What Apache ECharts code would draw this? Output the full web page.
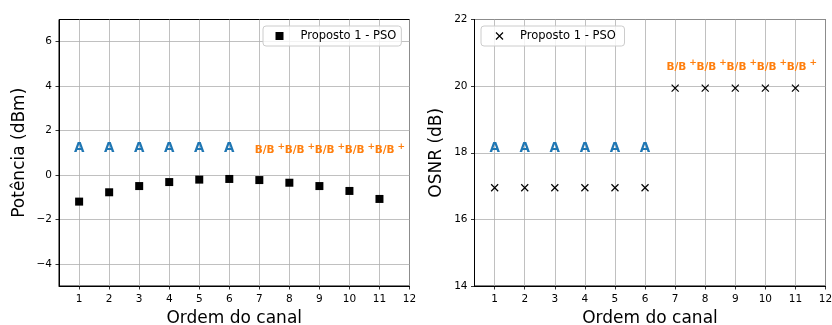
<!DOCTYPE html>
<html>
<head>
<meta charset="utf-8">
<script src="https://cdn.jsdelivr.net/npm/echarts@6/dist/echarts.min.js"></script>
<style>
  html, body { margin: 0; padding: 0; background: #fff; }
  #chart { width: 832px; height: 325px; }
</style>
</head>
<body>
<div id="chart"></div>
<script>
// Channel order and per-channel results of the PSO proposal
const channels = [1, 2, 3, 4, 5, 6, 7, 8, 9, 10, 11];
const potencia = [-1.20, -0.78, -0.50, -0.32, -0.21, -0.18, -0.23, -0.35, -0.50, -0.72, -1.08];
const osnr = [16.95, 16.95, 16.95, 16.95, 16.95, 16.95, 19.94, 19.94, 19.94, 19.94, 19.94];
// Modulation class assigned to each channel
const classes = ['A', 'A', 'A', 'A', 'A', 'A', 'B/B+', 'B/B+', 'B/B+', 'B/B+', 'B/B+'];
// Heights at which the class tags are written (power plot / OSNR plot)
const tagYPower = { 'A': 1, 'B/B+': 1 };
const tagYOsnr = { 'A': 18, 'B/B+': 20.5 };

// Tick labels
const xTicks = [1, 2, 3, 4, 5, 6, 7, 8, 9, 10, 11, 12];
const powerTicks = [-4, -2, 0, 2, 4, 6];
const osnrTicks = [14, 16, 18, 20, 22];

const seriesName = 'Proposto 1 - PSO';
const FONT = 'DejaVu Sans';
const BLUE = '#1f77b4';
const ORANGE = '#ff7f0e';
const GRID = '#b0b0b0';
const CROSS = 'path://M0,0L10,10M0,10L10,0';

const fmtNum = v => (v < 0 ? '\u2212' + Math.abs(v) : String(v));

function xAxisFor(gridIndex) {
  return {
    type: 'value', gridIndex, min: 0.33, max: 12,
    name: 'Ordem do canal', nameLocation: 'middle', nameGap: 24,
    nameTextStyle: { fontFamily: FONT, fontSize: 17, color: '#000' },
    axisLine: { show: true, onZero: false, lineStyle: { color: '#000', width: 1 } },
    axisTick: { show: true, length: 3.5, inside: false, customValues: xTicks, lineStyle: { color: '#000', width: 0.8 } },
    axisLabel: { customValues: xTicks, margin: 8, fontFamily: FONT, fontSize: 10.5, color: '#000', formatter: fmtNum },
    splitLine: { show: true, lineStyle: { color: GRID, width: 0.8 } }
  };
}

function yAxisFor(gridIndex, min, max, ticks, title, gap) {
  return {
    type: 'value', gridIndex, min, max,
    name: title, nameLocation: 'middle', nameGap: gap, nameRotate: 90,
    nameTextStyle: { fontFamily: FONT, fontSize: 17, color: '#000' },
    axisLine: { show: true, onZero: false, lineStyle: { color: '#000', width: 1 } },
    axisTick: { show: true, length: 3.5, inside: false, customValues: ticks, lineStyle: { color: '#000', width: 0.8 } },
    axisLabel: { customValues: ticks, margin: 7, fontFamily: FONT, fontSize: 10.5, color: '#000', formatter: fmtNum },
    splitLine: { show: true, lineStyle: { color: GRID, width: 0.8 } }
  };
}

// Class tags drawn as text labels anchored on data coordinates
function tagSeries(xAxisIndex, yAxisIndex, tagY, bOffsetX) {
  return {
    type: 'scatter', xAxisIndex, yAxisIndex, silent: true, z: 5,
    symbolSize: 0, legendHoverLink: false,
    itemStyle: { opacity: 1 },
    data: channels.map((c, i) => ({
      value: [c, tagY[classes[i]]],
      cls: classes[i],
      label: classes[i] === 'A'
        ? { align: 'center', offset: [0, 3] }
        : { align: 'left', offset: [bOffsetX, 3] }
    })),
    label: {
      show: true, position: 'inside', verticalAlign: 'bottom',
      formatter: p => p.data.cls === 'A' ? '{a|A}' : '{b|B/B}{s|+}',
      rich: {
        a: { fontFamily: FONT, fontWeight: 'bold', fontSize: 13.5, color: BLUE, opacity: 1 },
        b: { fontFamily: FONT, fontWeight: 'bold', fontSize: 10.5, lineHeight: 14, verticalAlign: 'bottom', color: ORANGE, opacity: 1 },
        s: { fontFamily: FONT, fontWeight: 'bold', fontSize: 9, lineHeight: 7, verticalAlign: 'top', padding: [0, 0, 0, 3], color: ORANGE, opacity: 1 }
      }
    },
    tooltip: { show: false }
  };
}

const legendBase = {
  orient: 'vertical', itemWidth: 8, itemHeight: 8, itemGap: 0,
  backgroundColor: 'rgba(255,255,255,0.8)', borderColor: '#cccccc', borderWidth: 1, borderRadius: 3,
  textStyle: { fontFamily: FONT, fontSize: 11.5, color: '#000', padding: [0, 0, 0, 12] },
  selectedMode: false
};

const gridBase = { outerBoundsMode: 'none', containLabel: false, show: true, borderColor: '#000', borderWidth: 1, backgroundColor: 'transparent' };

const option = {
  animation: false,
  backgroundColor: '#fff',
  grid: [
    Object.assign({}, gridBase, { left: 59, top: 19.5, width: 350.5, height: 266.5 }),
    Object.assign({}, gridBase, { left: 474.5, top: 19.5, width: 351, height: 266.5 })
  ],
  xAxis: [xAxisFor(0), xAxisFor(1)],
  yAxis: [
    yAxisFor(0, -5, 7, powerTicks, 'Potência (dBm)', 31),
    yAxisFor(1, 14, 22, osnrTicks, 'OSNR (dB)', 29)
  ],
  legend: [
    Object.assign({}, legendBase, { left: 263, top: 26, padding: [4, 5, 4, 12.5], data: [{ name: seriesName, icon: 'rect', itemStyle: { color: '#000', opacity: 1 } }] }),
    Object.assign({}, legendBase, { left: 481, top: 26, padding: [4, 5, 4, 12.5], itemWidth: 7, itemHeight: 7,
      data: [{ name: seriesName + ' ', icon: CROSS, itemStyle: { color: 'none', borderColor: '#000', borderWidth: 1.2, opacity: 1 } }] })
  ],
  series: [
    {
      name: seriesName, type: 'scatter', xAxisIndex: 0, yAxisIndex: 0, z: 4,
      symbol: 'rect', symbolSize: 8,
      itemStyle: { color: '#000', opacity: 1 },
      data: channels.map((c, i) => [c, potencia[i]])
    },
    {
      name: seriesName + ' ', type: 'scatter', xAxisIndex: 1, yAxisIndex: 1, z: 4,
      symbol: CROSS, symbolSize: 7,
      itemStyle: { color: 'none', borderColor: '#000', borderWidth: 1.2, opacity: 1 },
      data: channels.map((c, i) => [c, osnr[i]])
    },
    tagSeries(0, 0, tagYPower, -4.7),
    tagSeries(1, 1, tagYOsnr, -8.7)
  ]
};

const chart = echarts.init(document.getElementById('chart'), null, { renderer: 'canvas' });
chart.setOption(option);
</script>
</body>
</html>
